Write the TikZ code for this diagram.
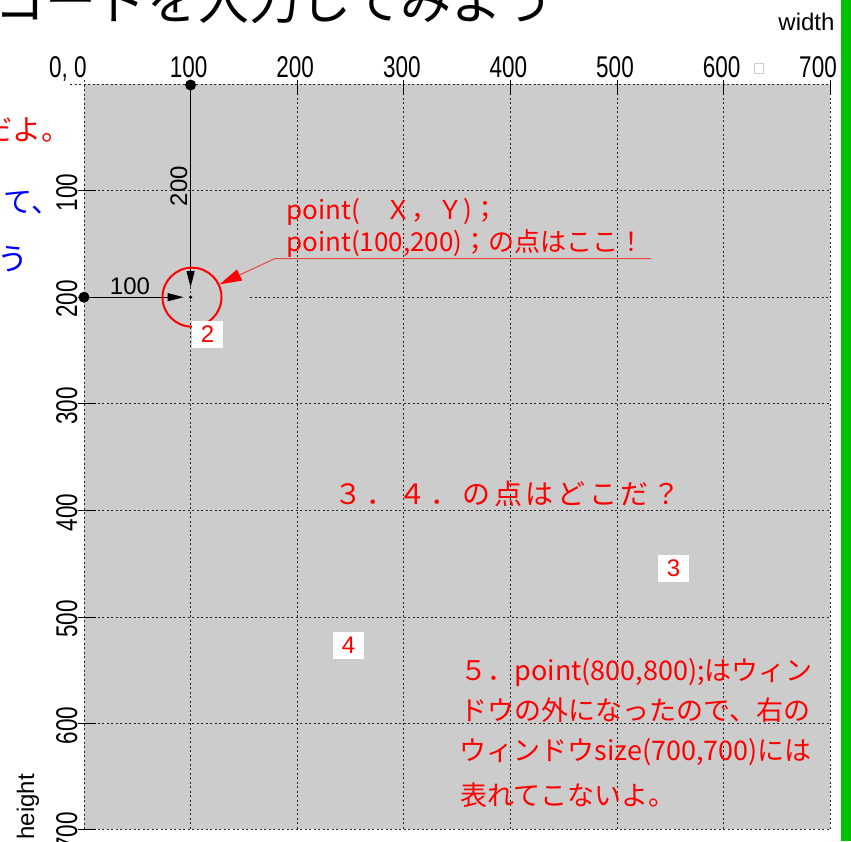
\documentclass[tikz,border=0pt]{standalone}
\usepackage{fontspec}
\setmainfont{Noto Sans CJK JP}
\newfontfamily\axisfont[FakeStretch=0.75]{Liberation Sans}
\newfontfamily\labelfont{Liberation Sans}
\usetikzlibrary{arrows.meta}

\definecolor{paneGray}{RGB}{204,204,204}
\definecolor{barGreen}{RGB}{0,192,0}
\definecolor{noteRed}{RGB}{255,0,0}
\definecolor{leaderRed}{RGB}{232,70,70}
\definecolor{noteBlue}{RGB}{0,0,255}

\tikzset{every picture/.style={line width=1pt}}
\tikzset{
  gridline/.style={black!85, dash pattern={on 2pt off 2.5pt}},
  tickline/.style={black, line width=1pt},
  axislabel/.style={inner sep=0pt, anchor=base, font=\axisfont\fontsize{30}{30}\selectfont},
  dimlabel/.style={inner sep=0pt, anchor=base, font=\labelfont\fontsize{24}{24}\selectfont},
  redtext/.style={inner sep=0pt, anchor=base west, text=noteRed, font=\fontsize{26}{30}\selectfont},
  numbox/.style={fill=white, inner sep=0pt, minimum width=31pt, minimum height=27pt, text=noteRed, font=\labelfont\fontsize{24}{24}\selectfont},
  bigdot/.style={circle, fill=black, inner sep=0pt, minimum size=11pt},
}

\begin{document}
\begin{tikzpicture}[x=1pt,y=1pt,yscale=-1.0,xscale=1.0]
    \useasboundingbox (0,0) rectangle (851,841);
    \fill[white] (0,0) rectangle (851,841);

    % Window pane
    \fill[paneGray] (84,84) rectangle (830,829);
    \fill[barGreen] (841,0) rectangle (851,841);

    % Grid, horizontal
    \draw[gridline] (70,84) -- (830,84);
    \draw[gridline] (84,190.6) -- (830,190.6);
    \draw[gridline] (250,297.2) -- (830,297.2);
    \draw[gridline] (84,403.8) -- (830,403.8);
    \draw[gridline] (84,510.4) -- (830,510.4);
    \draw[gridline] (84,617) -- (830,617);
    \draw[gridline] (84,723.6) -- (830,723.6);
    \draw[gridline] (84,829) -- (830,829);
    % Grid, vertical
    \draw[gridline] (84,80) -- (84,829);
    \draw[gridline] (190.6,84) -- (190.6,829);
    \draw[gridline] (297.2,84) -- (297.2,829);
    \draw[gridline] (403.8,84) -- (403.8,829);
    \draw[gridline] (510.4,84) -- (510.4,829);
    \draw[gridline] (617,84) -- (617,829);
    \draw[gridline] (723.6,84) -- (723.6,829);
    \draw[gridline] (830,84) -- (830,829);

    % Ticks
    \draw[tickline] (190.6,80) -- (190.6,95);
    \draw[tickline] (297.2,80) -- (297.2,95);
    \draw[tickline] (403.8,80) -- (403.8,95);
    \draw[tickline] (510.4,80) -- (510.4,95);
    \draw[tickline] (617,80) -- (617,95);
    \draw[tickline] (723.6,80) -- (723.6,95);
    \draw[tickline] (830,80) -- (830,95);
    \draw[tickline] (78,190.6) -- (96,190.6);
    \draw[tickline] (78,297.2) -- (96,297.2);
    \draw[tickline] (78,403.8) -- (96,403.8);
    \draw[tickline] (78,510.4) -- (96,510.4);
    \draw[tickline] (78,617) -- (96,617);
    \draw[tickline] (78,723.6) -- (96,723.6);
    \draw[tickline] (78,829) -- (96,829);

    % Axis labels
    \node[axislabel] (xlab0) at (68,77) {0, 0};
    \node[axislabel] (xlab1) at (188.6,77) {100};
    \node[axislabel] (xlab2) at (295.2,77) {200};
    \node[axislabel] (xlab3) at (401.8,77) {300};
    \node[axislabel] (xlab4) at (508.4,77) {400};
    \node[axislabel] (xlab5) at (615,77) {500};
    \node[axislabel] (xlab6) at (721.6,77) {600};
    \node[axislabel] (xlab7) at (818,77) {700};
    \node[axislabel, rotate=90] (ylab1) at (77,192.6) {100};
    \node[axislabel, rotate=90] (ylab2) at (77,299.2) {200};
    \node[axislabel, rotate=90] (ylab3) at (77,405.8) {300};
    \node[axislabel, rotate=90] (ylab4) at (77,512.4) {400};
    \node[axislabel, rotate=90] (ylab5) at (77,619) {500};
    \node[axislabel, rotate=90] (ylab6) at (77,725.6) {600};
    \node[axislabel, rotate=90] (ylab7) at (77,831) {700};
    \draw[black!20] (754,63) rectangle (763,73);

    % Text Node
    \node[inner sep=0pt, anchor=base west, font=\fontsize{51}{60}\selectfont] (title) at (-6,19) {コードを入力してみよう};
    \node[inner sep=0pt, anchor=base east, font=\labelfont\fontsize{24}{24}\selectfont] (widthlab) at (835,30) {width};
    \node[inner sep=0pt, anchor=base west, rotate=90, font=\labelfont\fontsize{24}{24}\selectfont] (heightlab) at (34,840) {height};
    \node[inner sep=0pt, anchor=base west, text=noteRed, font=\fontsize{29}{30}\selectfont] (sidered) at (-17,140) {だよ。};
    \node[inner sep=0pt, anchor=base west, text=noteBlue, font=\fontsize{29}{30}\selectfont] (sideblue) at (3,212) {て、};
    \node[inner sep=0pt, anchor=base west, text=noteBlue, font=\fontsize{31}{30}\selectfont] (sideblue2) at (-3,270) {う};

    % Point (100,200)
    \node[bigdot] (topdot) at (190.6,85) {};
    \node[bigdot] (leftdot) at (84,297.2) {};
    \node[circle, fill=black, inner sep=0pt, minimum size=3.5pt] (pt) at (190.6,297.2) {};
    % Connection
    \draw[-{Triangle[length=16pt,width=8pt]}, shorten >=10pt] (topdot.center) -- (pt.center);
    % Connection
    \draw[-{Triangle[length=16pt,width=8pt]}, shorten >=7pt] (leftdot.center) -- (pt.center);
    \node[dimlabel, rotate=90] (dimy) at (187,186) {200};
    \node[dimlabel] (dimx) at (130,294) {100};
    \node[circle, draw=noteRed, line width=2pt, inner sep=0pt, minimum size=59pt] (ring) at (192,297.2) {};
    \node[numbox] (two) at (207.5,334.5) {2};

    % Text Node
    \node[redtext] (syntax) at (286,219) {point(　Ｘ，Ｙ)；};
    \node[redtext] (here) at (286,251) {point(100,200)；の点はここ！};
    \coordinate (leaderEnd) at (651,258.5);
    \coordinate (leaderBend) at (275,258.5);
    % Connection
    \draw[leaderRed, -{Triangle[length=22pt,width=12pt,color=noteRed]}] (leaderEnd) -- (leaderBend) -- (ring);

    % Text Node
    \node[redtext, font=\fontsize{28}{30}\selectfont\addfontfeature{LetterSpace=14}] (question) at (334,504) {３．４．の点はどこだ？};
    \node[numbox] (three) at (673.5,568.5) {3};
    \node[numbox] (four) at (348.5,645.5) {4};

    % Text Node
    \node[redtext, font=\fontsize{27}{30}\selectfont] (noteA) at (460,680) {５．point(800,800);はウィン};
    \node[redtext, font=\fontsize{27}{30}\selectfont] (noteB) at (460,720) {ドウの外になったので、右の};
    \node[redtext, font=\fontsize{27}{30}\selectfont] (noteC) at (459,760) {ウィンドウsize(700,700)には};
    \node[redtext, font=\fontsize{27}{30}\selectfont] (noteD) at (460,805) {表れてこないよ。};
\end{tikzpicture}
\end{document}
